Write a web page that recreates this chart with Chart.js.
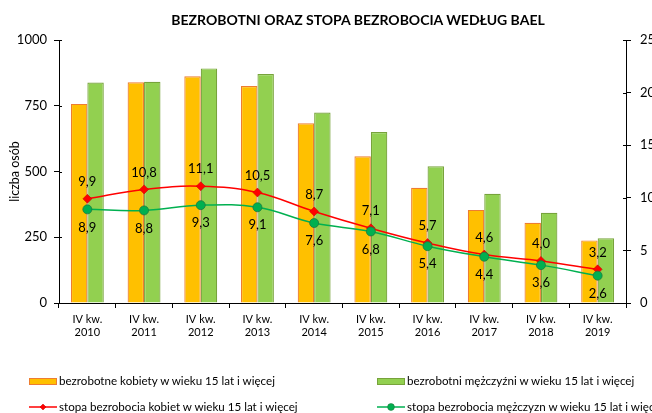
<!DOCTYPE html>
<html>
<head>
<meta charset="utf-8">
<script src="https://cdn.jsdelivr.net/npm/chart.js@4.4.1/dist/chart.umd.min.js"></script>
<style>
    html, body { margin: 0; padding: 0; background: #fff; }
    #wrap { position: relative; width: 652px; height: 413px; overflow: hidden; }
    #chartCanvas { position: absolute; left: 0; top: 0; }
    #title { position: absolute; left: 158px; width: 400px; top: 11px; text-align: center; font-family: Lato, "Open Sans", sans-serif; font-weight: bold; font-size: 14px; color: #000; white-space: nowrap; }
    .leg { position: absolute; font-family: Lato, "Open Sans", sans-serif; font-size: 11.6px; color: #000; white-space: nowrap; line-height: 14px; height: 14px; }
    .leg .sym { position: absolute; left: 0; top: 0; }
    .leg span.txt { position: absolute; left: 30px; top: 0; }
</style>
</head>
<body>
<div id="wrap">
    <canvas id="chartCanvas" width="652" height="413"></canvas>
    <div id="title">BEZROBOTNI ORAZ STOPA BEZROBOCIA WEDŁUG BAEL</div>
    <div class="leg" style="left:29px; top:374px;">
        <div class="sym" style="left:0; top:3.5px; width:26px; height:5px; background:#ffc000; border:1px solid #ed7d31;"></div>
        <span class="txt">bezrobotne kobiety w wieku 15 lat i więcej</span>
    </div>
    <div class="leg" style="left:377px; top:374px;">
        <div class="sym" style="left:0; top:3.5px; width:26px; height:5px; background:#92d050; border:1px solid #77a33b;"></div>
        <span class="txt">bezrobotni mężczyźni w wieku 15 lat i więcej</span>
    </div>
    <div class="leg" style="left:29px; top:400px;">
        <svg class="sym" width="28" height="14"><line x1="0" y1="7" x2="28" y2="7" stroke="#ff0000" stroke-width="1.5"/><polygon points="14,4 17,7 14,10 11,7" fill="#ff0000" stroke="#c00000" stroke-width="0.5"/></svg>
        <span class="txt">stopa bezrobocia kobiet w wieku 15 lat i więcej</span>
    </div>
    <div class="leg" style="left:377px; top:400px;">
        <svg class="sym" width="28" height="14"><line x1="0" y1="7" x2="28" y2="7" stroke="#00b050" stroke-width="1.5"/><circle cx="14" cy="7" r="3.4" fill="#00b050" stroke="#1e7a3e" stroke-width="0.6"/></svg>
        <span class="txt">stopa bezrobocia mężczyzn w wieku 15 lat i więcej</span>
    </div>
</div>
<script>
const years = ["2010", "2011", "2012", "2013", "2014", "2015", "2016", "2017", "2018", "2019"];
const quarterLabel = "IV kw.";

// bezrobotni (tys. osób)
const womenUnemployed = [757, 839, 862, 825, 683, 558, 438, 354, 305, 238];
const menUnemployed = [838, 841, 892, 871, 724, 650, 520, 415, 343, 246];

// stopa bezrobocia (%)
const womenRate = [9.9, 10.8, 11.1, 10.5, 8.7, 7.1, 5.7, 4.6, 4.0, 3.2];
const menRate = [8.9, 8.8, 9.3, 9.1, 7.6, 6.8, 5.4, 4.4, 3.6, 2.6];

const leftTicks = [0, 250, 500, 750, 1000];
const rightTicks = [0, 5, 10, 15, 20, 25];

const FONT = "Lato, 'Open Sans', sans-serif";

function formatRate(value) {
    return value.toFixed(1).replace(".", ",");
}

const rateLabelsPlugin = {
    id: "rateLabels",
    afterDatasetsDraw(chart) {
        const ctx = chart.ctx;
        ctx.save();
        ctx.font = "13px " + FONT;
        ctx.fillStyle = "#000";
        ctx.textAlign = "center";
        ctx.textBaseline = "middle";
        chart.data.datasets.forEach((ds, i) => {
            if (!ds.labelSide) return;
            const meta = chart.getDatasetMeta(i);
            meta.data.forEach((pt, j) => {
                const dy = ds.labelSide === "above" ? -17 : 18;
                ctx.fillText(formatRate(ds.data[j]), pt.x, pt.y + dy);
            });
        });
        ctx.restore();
    }
};

// small inward part of the tick marks (they cross the axis line)
const innerTicksPlugin = {
    id: "innerTicks",
    afterDraw(chart) {
        const ctx = chart.ctx;
        const area = chart.chartArea;
        ctx.save();
        ctx.strokeStyle = "#000";
        ctx.lineWidth = 1;
        ctx.beginPath();
        chart.scales.y.ticks.forEach((t, i) => {
            const y = Math.round(chart.scales.y.getPixelForTick(i)) + 0.5;
            ctx.moveTo(area.left, y);
            ctx.lineTo(area.left + 3, y);
        });
        chart.scales.y1.ticks.forEach((t, i) => {
            const y = Math.round(chart.scales.y1.getPixelForTick(i)) + 0.5;
            ctx.moveTo(area.right, y);
            ctx.lineTo(area.right - 3, y);
        });
        ctx.stroke();
        ctx.restore();
    }
};

new Chart(document.getElementById("chartCanvas").getContext("2d"), {
    type: "bar",
    data: {
        labels: years.map(y => [quarterLabel, y]),
        datasets: [
            {
                type: "line",
                label: "stopa bezrobocia kobiet w wieku 15 lat i więcej",
                data: womenRate,
                yAxisID: "y1",
                borderColor: "#ff0000",
                borderWidth: 1.5,
                tension: 0.4,
                pointStyle: "rectRot",
                pointRadius: 4.5,
                pointBackgroundColor: "#ff0000",
                pointBorderColor: "#c00000",
                pointBorderWidth: 0.5,
                labelSide: "above",
                order: 1
            },
            {
                type: "line",
                label: "stopa bezrobocia mężczyzn w wieku 15 lat i więcej",
                data: menRate,
                yAxisID: "y1",
                borderColor: "#00b050",
                borderWidth: 1.5,
                tension: 0.4,
                pointStyle: "circle",
                pointRadius: 4.5,
                pointBackgroundColor: "#00b050",
                pointBorderColor: "#1e7a3e",
                pointBorderWidth: 0.8,
                labelSide: "below",
                order: 0
            },
            {
                label: "bezrobotne kobiety w wieku 15 lat i więcej",
                data: womenUnemployed,
                yAxisID: "y",
                backgroundColor: "#ffc000",
                borderColor: "#ed7d31",
                borderWidth: 1.2,
                categoryPercentage: 0.58,
                barPercentage: 1,
                order: 2
            },
            {
                label: "bezrobotni mężczyźni w wieku 15 lat i więcej",
                data: menUnemployed,
                yAxisID: "y",
                backgroundColor: "#92d050",
                borderColor: "#77a33b",
                borderWidth: 1.2,
                categoryPercentage: 0.58,
                barPercentage: 1,
                order: 2
            }
        ]
    },
    options: {
        responsive: false,
        animation: false,
        layout: {
            padding: { left: 0, right: 0, top: 40, bottom: 60 }
        },
        plugins: {
            legend: { display: false },
            tooltip: { enabled: false },
            title: { display: false }
        },
        scales: {
            x: {
                grid: { display: true, drawOnChartArea: false, offset: true, color: "#000", tickLength: 5, tickColor: "#000" },
                border: { color: "#000", width: 1 },
                ticks: {
                    color: "#000",
                    font: { family: FONT, size: 11 },
                    padding: 5,
                    maxRotation: 0,
                    autoSkip: false
                },
                afterFit: s => { s.height = 50; }
            },
            y: {
                position: "left",
                min: 0,
                max: 1000,
                afterBuildTicks: s => { s.ticks = leftTicks.map(v => ({ value: v })); },
                grid: { display: true, drawOnChartArea: false, color: "#000", tickLength: 5 },
                border: { color: "#000", width: 1 },
                ticks: {
                    color: "#000",
                    font: { family: FONT, size: 13 },
                    padding: 7,
                    callback: v => String(v)
                },
                title: {
                    display: true,
                    text: "liczba osób",
                    color: "#000",
                    font: { family: FONT, size: 12.5 },
                    padding: { top: 7, bottom: 0 }
                },
                afterFit: s => { s.width = 59; }
            },
            y1: {
                position: "right",
                min: 0,
                max: 25,
                afterBuildTicks: s => { s.ticks = rightTicks.map(v => ({ value: v })); },
                grid: { display: true, drawOnChartArea: false, color: "#000", tickLength: 5 },
                border: { color: "#000", width: 1 },
                ticks: {
                    color: "#000",
                    font: { family: FONT, size: 13 },
                    padding: 9,
                    callback: v => String(v)
                },
                afterFit: s => { s.width = 26; }
            }
        }
    },
    plugins: [rateLabelsPlugin, innerTicksPlugin]
});
</script>
</body>
</html>
